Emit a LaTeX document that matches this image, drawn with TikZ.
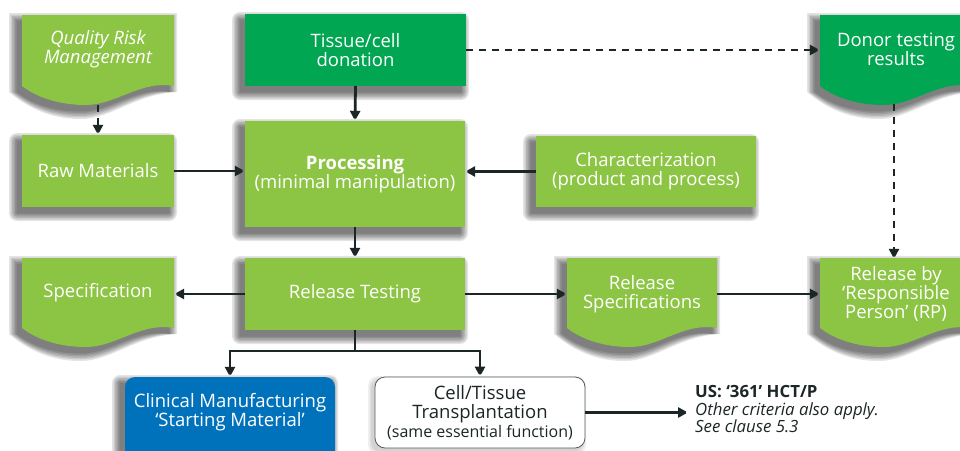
\documentclass[tikz,border=0pt]{standalone}
\usepackage{fontspec}
\setmainfont{Open Sans}
\usetikzlibrary{arrows.meta,calc}

\definecolor{leaf}{HTML}{8CC443}
\definecolor{forest}{HTML}{00A651}
\definecolor{ocean}{HTML}{0072BC}
\definecolor{ink}{HTML}{1C2626}

\tikzset{
  box/.style={rectangle, inner sep=0pt, align=center, text=white,
      font=\fontsize{18.5}{19}\selectfont},
  solidbox/.style={box, fill=#1},
  docbox/.style={box},
  wire/.style={draw=ink, line width=2.8pt, miter limit=2},
  link/.style={wire, -{Triangle[length=10pt,width=10pt]}},
  dashlink/.style={link, dash pattern=on 7pt off 6pt},
  shadowlayer/.style={fill=black, opacity=0.105},
}

% document outline: left, right, top, bottom of the straight sides, inflation
\newcommand\docpath[5]{%
  ({#1-#5},{#3-#5}) -- ({#2+#5},{#3-#5}) -- ({#2+#5},{#4})
  .. controls ({#2-0.22*(#2-#1)},{#4-6+#5}) and ({#1+0.62*(#2-#1)},{#4+19+#5})
  .. ({#1+0.42*(#2-#1)},{#4+19+#5})
  .. controls ({#1+0.28*(#2-#1)},{#4+19+#5}) and ({#1+0.12*(#2-#1)},{#4+14+#5})
  .. ({#1-#5},{#4}) -- cycle}

% soft shadows, cast to the lower left
\newcommand\docshadow[4]{%
  \foreach \e in {8,6.5,5,3.5,2,0.5}{%
    \fill[shadowlayer, shift={(-5,6)}] \docpath{#1}{#2}{#3}{#4}{\e};}}
\newcommand\rectshadow[4]{%
  \foreach \e in {8,6.5,5,3.5,2,0.5}{%
    \fill[shadowlayer, rounded corners=\e pt, shift={(-5,6)}]
      ({#1-\e},{#3-\e}) rectangle ({#2+\e},{#4+\e});}}

\begin{document}
\begin{tikzpicture}[x=1pt, y=-1pt]
\useasboundingbox (0,0) rectangle (960,450);
\clip (0,0) rectangle (960,450);
\fill[white] (0,0) rectangle (960,450);

% shadows
\docshadow{22}{174}{15}{86}
\rectshadow{245}{466}{14}{86}
\docshadow{820}{972}{15}{86}
\rectshadow{22}{174}{135}{207}
\rectshadow{245}{465}{121}{227}
\rectshadow{536}{756}{136}{207}
\docshadow{22}{174}{258}{328}
\rectshadow{245}{465}{258}{330}
\docshadow{567}{717}{258}{328}
\docshadow{820}{972}{258}{328}
\rectshadow{125}{335}{377}{470}
\foreach \e in {4,2.5,1}{%
  \fill[black, opacity=0.06, rounded corners=10pt, shift={(-3,3)}]
    ({375-\e},{377-\e}) rectangle ({585+\e},{448+\e});}

% document-shaped fills
\fill[leaf]   \docpath{22}{174}{15}{86}{0};
\fill[forest] \docpath{820}{972}{15}{86}{0};
\fill[leaf]   \docpath{22}{174}{258}{328}{0};
\fill[leaf]   \docpath{567}{717}{258}{328}{0};
\fill[leaf]   \docpath{820}{972}{258}{328}{0};
\fill[ocean, rounded corners=10pt] (125,377) rectangle (335,470);

% top row
\node[docbox, minimum width=152pt, minimum height=71pt,
      font=\fontsize{18.5}{19}\selectfont\itshape] (qrm) at (98,49)
      {Quality Risk\\Management};
\node[solidbox=forest, minimum width=221pt, minimum height=72pt] (tissue) at (355.5,50)
      {Tissue/cell\\donation};
\node[docbox, minimum width=152pt, minimum height=71pt] (donor) at (896,49)
      {Donor testing\\results};

% middle row
\node[solidbox=leaf, minimum width=152pt, minimum height=72pt] (raw) at (98,171)
      {Raw Materials};
\node[solidbox=leaf, minimum width=220pt, minimum height=106pt] (proc) at (355,174)
      {\textbf{Processing}\\(minimal manipulation)};
\node[solidbox=leaf, minimum width=220pt, minimum height=71pt] (char) at (646,171.5)
      {Characterization\\(product and process)};

% release row
\node[docbox, minimum width=152pt, minimum height=70pt] (spec) at (98,293)
      {Specification};
\node[solidbox=leaf, minimum width=220pt, minimum height=72pt] (rtest) at (355,294)
      {Release Testing};
\node[docbox, minimum width=150pt, minimum height=70pt] (rspec) at (642,294)
      {Release\\Specifications};
\node[docbox, minimum width=152pt, minimum height=70pt] (rp) at (896,294)
      {Release by\\‘Responsible\\Person’ (RP)};

% outcomes
\node[box, minimum width=210pt, minimum height=70pt] (clin) at (230,412)
      {Clinical Manufacturing\\‘Starting Material’};
\node[box, text=ink, fill=white, draw=ink!75, line width=0.8pt, rounded corners=10pt,
      minimum width=210pt, minimum height=71pt] (cell) at (480,412.5)
      {Cell/Tissue\\Transplantation\\{\fontsize{16}{19}\selectfont(same essential function)}};
\node[anchor=west, inner sep=0pt, align=left, text=ink,
      font=\fontsize{16.8}{17.5}\selectfont] (us) at (695,409.5)
      {\textbf{US: ‘361’ HCT/P}\\\textit{Other criteria also apply.}\\\textit{See clause 5.3}};

% connectors
\draw[dashlink] ($(qrm.south)+(0,20)$) -- (raw.north);
\draw[link] (tissue.south) -- (proc.north);
\draw[dashlink] (tissue.east) -- (tissue.east -| donor.west);
\draw[dashlink] ($(donor.south)+(-2,19)$) -- ($(rp.north)+(-2,0)$);
\draw[link] (raw.east) -- (raw.east -| proc.west);
\draw[link] (char.west) -- (char.west -| proc.east);
\draw[link] (proc.south) -- (rtest.north);
\draw[link] (rtest.west) -- (rtest.west -| spec.east);
\draw[link] (rtest.east) -- (rtest.east -| rspec.west);
\draw[link] (rspec.east) -- (rspec.east -| rp.west);
\coordinate (fork) at (355,351);
\draw[wire] (rtest.south) -- (fork);
\draw[link] (fork) -| (clin.north);
\draw[link] (fork) -| (cell.north);
\draw[link, shorten >=7pt] (cell.east) -- (cell.east -| us.west);
\end{tikzpicture}
\end{document}
